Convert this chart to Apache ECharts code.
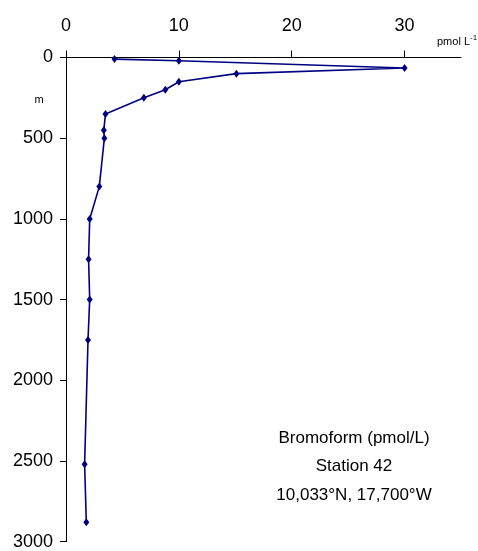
<!DOCTYPE html>
<html>
<head>
<meta charset="utf-8">
<script src="https://cdn.jsdelivr.net/npm/echarts@6/dist/echarts.min.js"></script>
<style>
html,body{margin:0;padding:0;background:#fff;}
#chart{width:478px;height:551px;}
</style>
</head>
<body>
<div id="chart"></div>
<script>
// Bromoform concentration (pmol/L) vs depth (m), Station 42
var depth = [10, 20, 65, 100, 150, 200, 250, 350, 450, 500, 800, 1000, 1250, 1500, 1750, 2520, 2880];
var conc  = [4.3, 10.0, 30.0, 15.1, 10.0, 8.8, 6.9, 3.5, 3.35, 3.4, 2.95, 2.1, 2.0, 2.1, 1.95, 1.65, 1.8];
var xTicks = [0, 10, 20, 30];
var yTicks = [0, 500, 1000, 1500, 2000, 2500, 3000];
var annotation = ['Bromoform (pmol/L)', 'Station 42', '10,033°N, 17,700°W'];
var xUnit = 'pmol L';
var yUnit = 'm';

var FONT = '"Liberation Sans", Arial, sans-serif';
var chart = echarts.init(document.getElementById('chart'), null, {renderer: 'canvas'});

var pts = depth.map(function (d, i) { return [conc[i], d]; });

var graphics = annotation.map(function (t, i) {
  return {
    type: 'text', x: 354, y: 438 + i * 28.5,
    style: {text: t, fill: '#000', font: '17px ' + FONT, textAlign: 'center', textVerticalAlign: 'middle'}
  };
});
graphics.push({
  type: 'text', x: 437, y: 42,
  style: {
    text: '{a|' + xUnit + '}{s|-1}',
    textVerticalAlign: 'middle',
    rich: {
      a: {fontSize: 11, fontFamily: FONT, fill: '#000', color: '#000'},
      s: {fontSize: 8, fontFamily: FONT, color: '#000', fill: '#000', verticalAlign: 'top', padding: [0, 0, 8, 0]}
    }
  }
});
graphics.push({
  type: 'text', x: 39, y: 100,
  style: {text: yUnit, fill: '#000', font: '11px ' + FONT, textAlign: 'center', textVerticalAlign: 'middle'}
});

chart.setOption({
  backgroundColor: '#fff',
  animation: false,
  grid: {left: 66, right: 17, top: 57.5, bottom: 9.3, containLabel: false},
  xAxis: {
    type: 'value', position: 'top', min: 0, max: 35, interval: 10,
    axisLine: {show: true, lineStyle: {color: '#000', width: 1}},
    axisTick: {show: true, length: 7, inside: false, customValues: xTicks, lineStyle: {color: '#000'}},
    axisLabel: {customValues: xTicks, margin: 22, color: '#000', fontSize: 18, fontFamily: FONT,
      formatter: function (v) { return String(v); }},
    splitLine: {show: false}
  },
  yAxis: {
    type: 'value', inverse: true, min: 0, max: 3000, interval: 500,
    axisLine: {show: true, lineStyle: {color: '#000', width: 1}},
    axisTick: {show: true, length: 6, customValues: yTicks, lineStyle: {color: '#000'}},
    axisLabel: {customValues: yTicks, margin: 13, color: '#000', fontSize: 18, fontFamily: FONT,
      formatter: function (v) { return String(v); }},
    splitLine: {show: false}
  },
  series: [{
    type: 'line', data: pts,
    symbol: 'diamond', symbolSize: [6, 8],
    lineStyle: {color: '#000080', width: 1.6},
    itemStyle: {color: '#000080'},
    clip: false
  }],
  graphic: graphics
});
</script>
</body>
</html>
